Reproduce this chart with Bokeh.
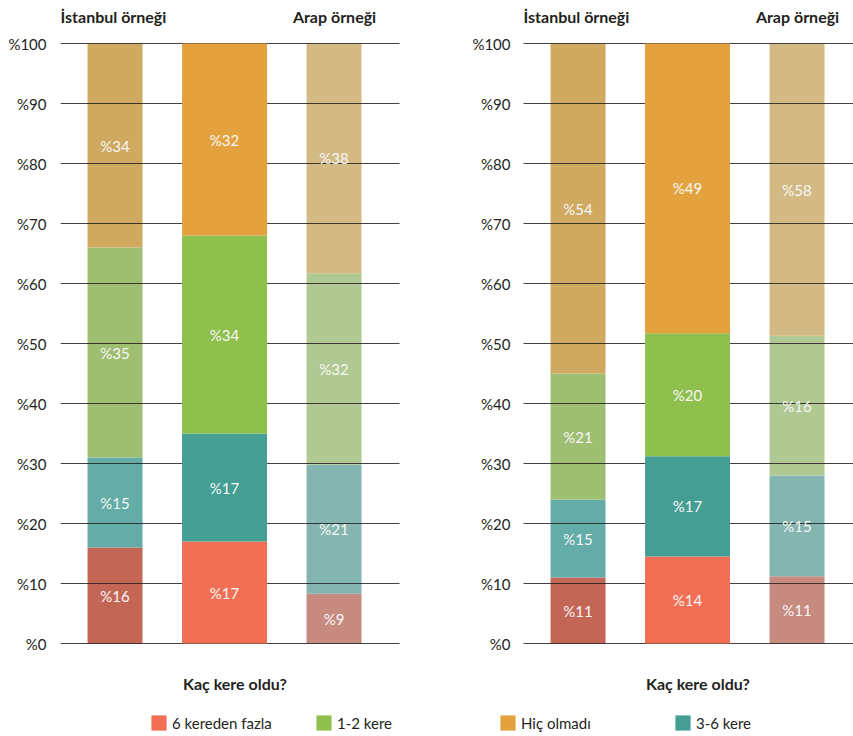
import numpy as np
from bokeh.plotting import figure
from bokeh.models import ColumnDataSource, Range1d, FixedTicker, Legend, LegendItem, Grid
from bokeh.core.properties import value
from bokeh.embed import file_html
from bokeh.resources import INLINE

# ---------------- data ----------------
BARS = ["İstanbul örneği", "Genel", "Arap örneği"]
SEGMENTS = ["6 kereden fazla", "3-6 kere", "1-2 kere", "Hiç olmadı"]
TICKS = list(range(0, 101, 10))
TICK_LABELS = [f"%{t}" for t in TICKS]
AXIS_TITLE = "Kaç kere oldu?"

# left panel: drawn segment heights (bottom -> top) and printed labels
LEFT_ISTANBUL = [16, 15, 35, 34]
LEFT_GENEL = [17, 18, 33, 32]
LEFT_ARAP = [8.3, 21.5, 31.9, 38.3]
LEFT_ISTANBUL_LBL = [16, 15, 35, 34]
LEFT_GENEL_LBL = [17, 17, 34, 32]
LEFT_ARAP_LBL = [9, 21, 32, 38]

# right panel
RIGHT_ISTANBUL = [11, 13, 21, 55]
RIGHT_GENEL = [14.5, 16.7, 20.5, 48.3]
RIGHT_ARAP = [11.2, 16.8, 23.3, 48.7]
RIGHT_ISTANBUL_LBL = [11, 15, 21, 54]
RIGHT_GENEL_LBL = [14, 17, 20, 49]
RIGHT_ARAP_LBL = [11, 15, 16, 58]

LEGEND_LEFT = ["6 kereden fazla", "1-2 kere"]
LEGEND_RIGHT = ["Hiç olmadı", "3-6 kere"]

COLORS = {
    "İstanbul örneği": ["#C46656", "#63ACA7", "#9EBE72", "#CFA95F"],
    "Genel": ["#F26F55", "#449E93", "#8FBF4D", "#E4A23F"],
    "Arap örneği": ["#C68A7F", "#85B5B0", "#B0C892", "#D3BA85"],
}

# ---------------- layout constants ----------------
FONT = "Lato"
TEXT_COLOR = "#231f20"
WIDTH, HEIGHT = 853, 736
BORDER_LEFT = 60
PX = 109.5                      # pixels per x unit
X0 = -0.498                     # x at the left edge of the frame
PANEL_W = 339 / PX              # width of one panel's grid
OFFSET = 463 / PX               # shift of the second panel
Y_RANGE = (-15.5, 107.1667)     # 6 px per percent
SIDE_W = 0.502
MID_W = 0.776

x_end = X0 + (WIDTH - BORDER_LEFT) / PX

p = figure(width=WIDTH, height=HEIGHT, output_backend="svg", toolbar_location=None,
           x_range=Range1d(X0, x_end), y_range=Range1d(*Y_RANGE), x_axis_location=None,
           min_border_left=BORDER_LEFT, min_border_right=0,
           min_border_top=0, min_border_bottom=0)
p.outline_line_color = None
p.background_fill_color = "white"
p.border_fill_color = "white"
p.xgrid.visible = False

ticker = FixedTicker(ticks=TICKS)
ax = p.yaxis[0]
ax.ticker = ticker
ax.major_label_overrides = dict(zip(TICKS, TICK_LABELS))
ax.axis_line_color = None
ax.major_tick_line_color = None
ax.minor_tick_line_color = None
ax.major_tick_out = 0
ax.major_tick_in = 0
ax.major_label_standoff = 14
ax.major_label_text_font = FONT
ax.major_label_text_font_size = "15px"
ax.major_label_text_color = TEXT_COLOR

g1 = p.ygrid[0]
g1.ticker = ticker
g1.cross_bounds = (X0, X0 + PANEL_W)
g2 = Grid(dimension=1, ticker=ticker, cross_bounds=(X0 + OFFSET, x_end))
p.add_layout(g2)
for g in (g1, g2):
    g.grid_line_color = TEXT_COLOR
    g.grid_line_alpha = 0.85
    g.grid_line_width = 1


def build_sources(values, labels, shift):
    side = dict(x=[], bottom=[], top=[], color=[], w=[])
    mid = dict(x=[], bottom=[], top=[], color=[], w=[])
    lab = dict(x=[], y=[], text=[])
    for i, bar in enumerate(BARS):
        vals = np.array(values[i], dtype=float)
        tops = np.cumsum(vals)
        bottoms = tops - vals
        target = mid if bar == "Genel" else side
        for j in range(len(SEGMENTS)):
            target["x"].append(i + shift)
            target["bottom"].append(bottoms[j])
            target["top"].append(tops[j])
            target["color"].append(COLORS[bar][j])
            target["w"].append(MID_W if bar == "Genel" else SIDE_W)
            lab["x"].append(i + shift)
            lab["y"].append((bottoms[j] + tops[j]) / 2)
            lab["text"].append(f"%{labels[i][j]}")
    return ColumnDataSource(side), ColumnDataSource(mid), ColumnDataSource(lab)


def draw_panel(values, labels, shift, legend_labels, legend_x):
    side, mid, lab = build_sources(values, labels, shift)
    r_side = p.vbar(x="x", width="w", bottom="bottom", top="top", source=side,
                    fill_color="color", line_color=None)
    r_side.level = "image"
    r_mid = p.vbar(x="x", width="w", bottom="bottom", top="top", source=mid,
                   fill_color="color", line_color=None)
    r_lab = p.text(x="x", y="y", text="text", source=lab, text_font=value(FONT),
                   text_font_size="15px", text_align="center", text_baseline="middle",
                   text_color="#f7f7f7")
    r_lab.level = "overlay"

    # headers
    p.text(x=[X0 + shift], y=[104.5], text=[BARS[0]], text_font=value(FONT),
           text_font_size="16px", text_font_style="bold", text_align="left",
           text_baseline="middle", text_color=TEXT_COLOR)
    p.text(x=[2.385 + shift], y=[104.5], text=[BARS[2]], text_font=value(FONT),
           text_font_size="16px", text_font_style="bold", text_align="right",
           text_baseline="middle", text_color=TEXT_COLOR)
    # axis title
    p.text(x=[1.095 + shift], y=[-6.67], text=[AXIS_TITLE], text_font=value(FONT),
           text_font_size="16px", text_font_style="bold", text_align="center",
           text_baseline="middle", text_color=TEXT_COLOR)

    for lbl, lx in zip(legend_labels, legend_x):
        item = LegendItem(label=lbl, renderers=[r_mid], index=SEGMENTS.index(lbl))
        leg = Legend(items=[item], location=(lx, 4), orientation="horizontal",
                     glyph_width=19, glyph_height=19, label_height=19, label_standoff=4,
                     padding=0, margin=0, spacing=0, border_line_color=None,
                     background_fill_alpha=0, label_text_font=FONT,
                     label_text_font_size="15px", label_text_color=TEXT_COLOR)
        p.add_layout(leg)


draw_panel([LEFT_ISTANBUL, LEFT_GENEL, LEFT_ARAP],
           [LEFT_ISTANBUL_LBL, LEFT_GENEL_LBL, LEFT_ARAP_LBL],
           0.0, LEGEND_LEFT, [89, 254])
draw_panel([RIGHT_ISTANBUL, RIGHT_GENEL, RIGHT_ARAP],
           [RIGHT_ISTANBUL_LBL, RIGHT_GENEL_LBL, RIGHT_ARAP_LBL],
           OFFSET, LEGEND_RIGHT, [438, 613])

# tick labels of the second panel's value axis
p.text(x=[X0 + OFFSET - 13 / PX] * len(TICKS), y=TICKS, text=TICK_LABELS,
       text_font=value(FONT), text_font_size="15px", text_align="right",
       text_baseline="middle", text_color=TEXT_COLOR)

open("out.html", "w").write(file_html(p, INLINE))
